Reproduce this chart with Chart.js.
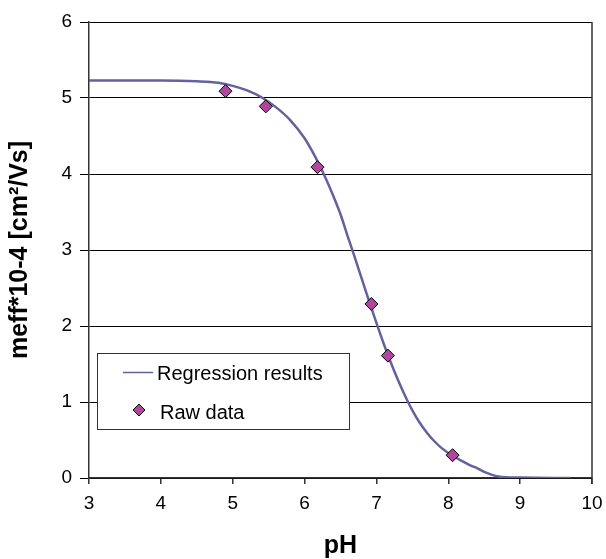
<!DOCTYPE html>
<html>
<head>
<meta charset="utf-8">
<script src="https://cdn.jsdelivr.net/npm/chart.js@4/dist/chart.umd.min.js"></script>
<style>
html,body{margin:0;padding:0;background:#fff;}
#wrap{width:606px;height:559px;}
</style>
</head>
<body>
<div id="wrap"><canvas id="c" width="606" height="559"></canvas></div>
<script>
// Regression curve
const curvePH  = [3.0, 3.5, 4.0, 4.5, 4.8, 5.0, 5.2, 5.4, 5.6, 5.8, 6.0, 6.1, 6.2, 6.3, 6.4, 6.5, 6.6, 6.7, 6.8, 6.9, 7.0, 7.1, 7.2, 7.3, 7.4, 7.5, 7.6, 7.7, 7.8, 7.9, 8.0, 8.1, 8.2, 8.3, 8.4, 8.5, 8.6, 8.7, 8.8, 9.0, 9.7];
const curveVal = [5.23, 5.23, 5.23, 5.22, 5.20, 5.16, 5.10, 5.01, 4.88, 4.71, 4.47, 4.31, 4.13, 3.93, 3.71, 3.47, 3.18, 2.90, 2.61, 2.32, 2.04, 1.77, 1.52, 1.29, 1.08, 0.89, 0.73, 0.60, 0.49, 0.40, 0.33, 0.27, 0.22, 0.17, 0.13, 0.08, 0.045, 0.02, 0.01, 0.005, 0.0];
// Raw data points
const rawPH  = [4.9, 5.46, 6.18, 6.93, 7.16, 8.06];
const rawVal = [5.09, 4.89, 4.09, 2.29, 1.61, 0.30];
// Axis ticks
const xTicks = [3, 4, 5, 6, 7, 8, 9, 10];
const yTicks = [0, 1, 2, 3, 4, 5, 6];
const seriesNames = ['Regression results', 'Raw data'];
const xTitle = 'pH';
const yTitle = 'meff*10-4 [cm\u00B2/Vs]';

const FONT = 'Liberation Sans, Arial, sans-serif';
const lineColor = '#62629E';
const markFill = '#B0479C';

const legendPlugin = {
  id: 'boxLegend',
  afterDraw(chart) {
    const ctx = chart.ctx;
    const x0 = 97, y0 = 353, w = 252, h = 76;
    ctx.save();
    ctx.fillStyle = '#fff';
    ctx.fillRect(x0, y0, w, h);
    ctx.strokeStyle = '#333';
    ctx.lineWidth = 1;
    ctx.strokeRect(x0 + 0.5, y0 + 0.5, w, h);
    // entry 1: line
    ctx.strokeStyle = lineColor;
    ctx.lineWidth = 1.5;
    ctx.beginPath();
    ctx.moveTo(123, 372.5);
    ctx.lineTo(153, 372.5);
    ctx.stroke();
    ctx.fillStyle = '#000';
    ctx.font = '20px ' + FONT;
    ctx.textBaseline = 'alphabetic';
    ctx.textAlign = 'left';
    ctx.fillText(chart.data.datasets[0].label, 157, 380);
    // entry 2: diamond
    const cx = 139, cy = 410, r = 6;
    ctx.beginPath();
    ctx.moveTo(cx, cy - r); ctx.lineTo(cx + r, cy); ctx.lineTo(cx, cy + r); ctx.lineTo(cx - r, cy); ctx.closePath();
    ctx.fillStyle = markFill; ctx.fill();
    ctx.strokeStyle = '#000'; ctx.lineWidth = 1; ctx.stroke();
    ctx.fillStyle = '#000';
    ctx.fillText(chart.data.datasets[1].label, 160, 419);
    ctx.restore();
  }
};

const borderPlugin = {
  id: 'rightBorder',
  beforeDatasetsDraw(chart) {
    const a = chart.chartArea, ctx = chart.ctx;
    ctx.save();
    ctx.strokeStyle = '#333';
    ctx.lineWidth = 1.5;
    ctx.beginPath();
    ctx.moveTo(a.right, a.top);
    ctx.lineTo(a.right, a.bottom + 6);
    ctx.stroke();
    ctx.restore();
  }
};

new Chart(document.getElementById('c'), {
  type: 'scatter',
  data: {
    datasets: [
      {
        label: seriesNames[0],
        data: curvePH.map((x, i) => ({x: x, y: curveVal[i]})),
        showLine: true,
        borderColor: lineColor,
        borderWidth: 2.5,
        pointRadius: 0,
        cubicInterpolationMode: 'monotone',
        fill: false,
        order: 2
      },
      {
        label: seriesNames[1],
        data: rawPH.map((x, i) => ({x: x, y: rawVal[i]})),
        showLine: false,
        pointStyle: 'rectRot',
        pointRadius: 6.5,
        pointBackgroundColor: markFill,
        pointBorderColor: '#000',
        pointBorderWidth: 1,
        order: 1
      }
    ]
  },
  options: {
    responsive: false,
    animation: false,
    devicePixelRatio: 1,
    layout: {padding: {left: 0, right: 14, top: 22, bottom: 0}},
    plugins: {legend: {display: false}, tooltip: {enabled: false}},
    scales: {
      x: {
        type: 'linear',
        min: xTicks[0], max: xTicks[xTicks.length - 1],
        afterBuildTicks: s => { s.ticks = xTicks.map(v => ({value: v})); },
        afterFit: s => { s.height = 81; s.paddingRight = 0; s.paddingLeft = 0; },
        grid: {display: true, drawOnChartArea: false, drawTicks: true, tickLength: 6, color: '#333', lineWidth: 1.5},
        border: {display: true, color: '#333', width: 1.5},
        ticks: {color: '#000', font: {size: 19, family: FONT}, padding: 8, maxRotation: 0},
        title: {display: true, text: xTitle, color: '#000', font: {size: 25, weight: 'bold', family: FONT, lineHeight: 1.0}, padding: {top: 0, bottom: 0}}
      },
      y: {
        type: 'linear',
        min: yTicks[0], max: yTicks[yTicks.length - 1],
        afterBuildTicks: s => { s.ticks = yTicks.map(v => ({value: v})); },
        afterFit: s => { s.width = 89; s.paddingTop = 0; s.paddingBottom = 0; },
        grid: {display: true, drawOnChartArea: true, drawTicks: true, tickLength: 9, color: '#000', lineWidth: 1},
        border: {display: true, color: '#333', width: 1.5},
        ticks: {color: '#000', font: {size: 19, family: FONT}, padding: 8},
        title: {display: true, text: yTitle, color: '#000', font: {size: 25, weight: 'bold', family: FONT, lineHeight: 1.0}, padding: {top: 8, bottom: 0}}
      }
    }
  },
  plugins: [borderPlugin, legendPlugin]
});
</script>
</body>
</html>
